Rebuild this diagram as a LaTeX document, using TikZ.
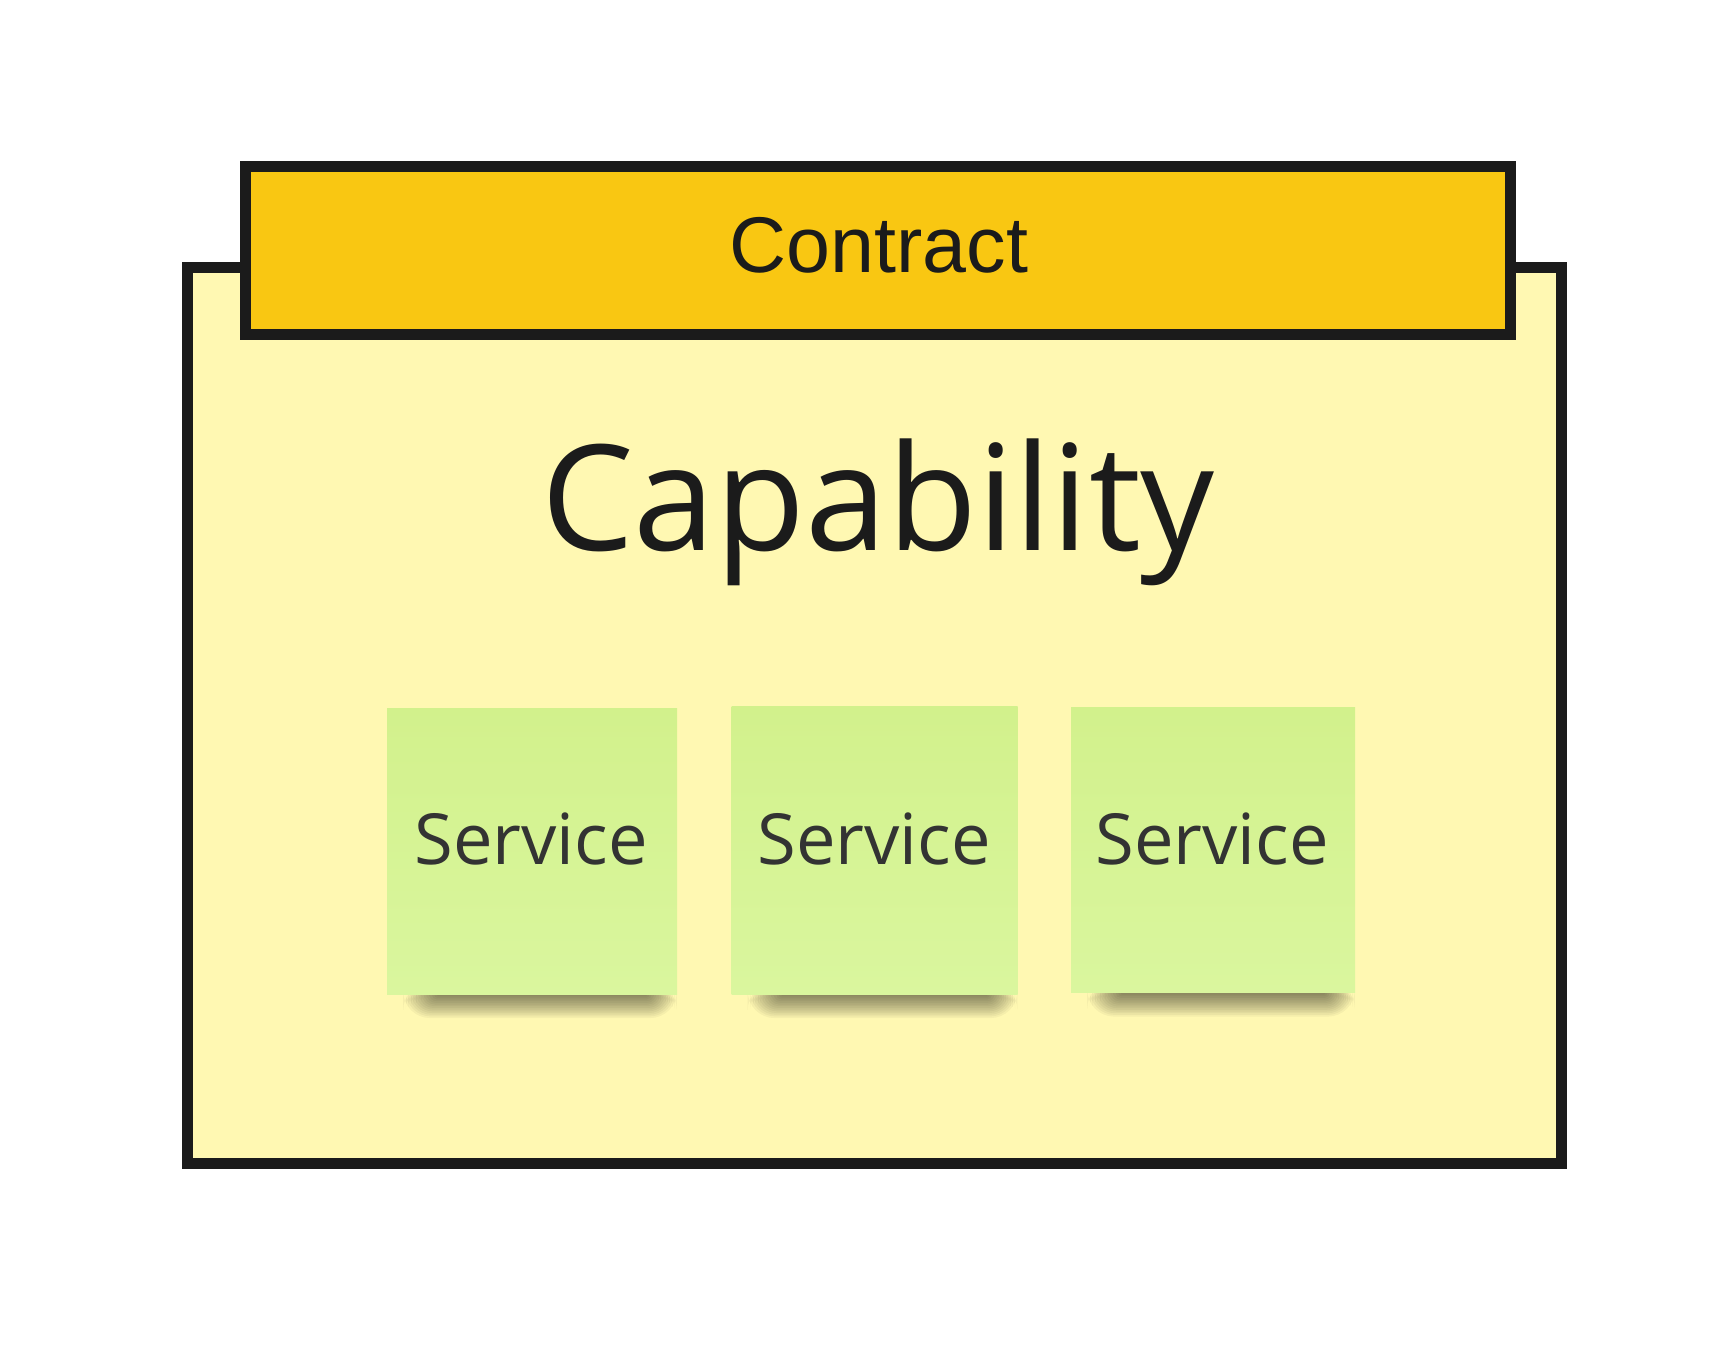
\documentclass[tikz,border=0pt]{standalone}
\usepackage{fontspec}
\setmainfont{Open Sans}
\newfontfamily\arialfont{Liberation Sans}
\definecolor{inkc}{RGB}{27,27,27}
\definecolor{svctext}{RGB}{51,51,51}
\definecolor{capfill}{RGB}{255,248,178}
\definecolor{confill}{RGB}{249,199,18}
\definecolor{notetop}{RGB}{210,241,140}
\definecolor{notebot}{RGB}{218,246,158}
\newcommand\mynoteshadow[3]{%
  \foreach \k in {0,...,13}{%
    \fill[black, opacity=0.04, rounded corners={\k*2pt+1pt}]
      ({#1+50-\k*2.6}, {#3-3-\k*0.6}) rectangle ({#2-30+\k*2.3}, {#3+2+\k*1.7});
  }%
}
\begin{document}
\begin{tikzpicture}[x=1pt,y=-1pt,
  boxstyle/.style={draw=inkc, line width=11pt, inner sep=0pt, outer sep=0pt},
  notestyle/.style={inner sep=0pt, outer sep=0pt, top color=notetop, bottom color=notebot, draw=none},
  svclabel/.style={anchor=base, text=svctext, inner sep=0pt, font=\fontsize{70.5}{85}\selectfont},
]
\fill[white] (0,0) rectangle (1735,1350);
\useasboundingbox (0,0) rectangle (1735,1350);

% capability box
\node[boxstyle, fill=capfill, minimum width=1374.7pt, minimum height=896pt] (cap) at (874.35,715) {};
% contract box
\node[boxstyle, fill=confill, minimum width=1264.5pt, minimum height=168.7pt] (con) at (877.75,250.35) {};
\node[anchor=base, inner sep=0pt, text=inkc, font=\arialfont\fontsize{79}{95}\selectfont] (contxt) at (879,272) {Contract};

% capability label
\node[anchor=base, inner sep=0pt, text=inkc, font=\fontsize{147}{176}\selectfont] (captxt) at (878,550) {Capability};

% shadows
\mynoteshadow{387}{677}{994}
\mynoteshadow{731.5}{1017.5}{994}
\mynoteshadow{1071}{1355}{992.5}

% notes
\node[notestyle, minimum width=290pt, minimum height=286pt] (n1) at (532,851) {};
\node[notestyle, minimum width=286pt, minimum height=287.5pt] (n2) at (874.5,850.25) {};
\node[notestyle, minimum width=284pt, minimum height=285pt] (n3) at (1213,850) {};

\node[svclabel] (s1) at (531,864) {Service};
\node[svclabel] (s2) at (874,864) {Service};
\node[svclabel] (s3) at (1212,864) {Service};
\end{tikzpicture}
\end{document}
